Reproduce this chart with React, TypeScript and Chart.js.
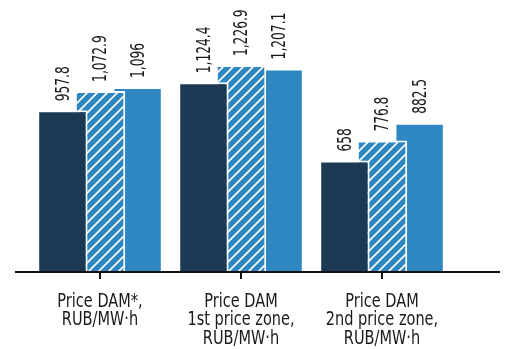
import React, { useEffect, useRef } from "react";
import { Chart, registerables } from "chart.js";

Chart.register(...registerables);

const categories: string[][] = [
  ["Price DAM*,", "RUB/MW·h"],
  ["Price DAM", "1st price zone,", "RUB/MW·h"],
  ["Price DAM", "2nd price zone,", "RUB/MW·h"],
];
const seriesA = [957.8, 1124.4, 658];
const seriesB = [1072.9, 1226.9, 776.8];
const seriesC = [1096, 1207.1, 882.5];

const DARK = "#1c3a54";
const BLUE = "#2e87c0";
const TEXT = "#1a1a1a";
const FONT = "'DejaVu Sans Condensed', 'Liberation Sans Narrow', 'Roboto', sans-serif";

function makeHatch(): CanvasPattern | string {
  const n = 10;
  const c = document.createElement("canvas");
  c.width = n;
  c.height = n;
  const g = c.getContext("2d");
  if (!g) return BLUE;
  g.fillStyle = BLUE;
  g.fillRect(0, 0, n, n);
  g.strokeStyle = "#ffffff";
  g.lineWidth = 1.6;
  g.beginPath();
  g.moveTo(-1, n + 1);
  g.lineTo(n + 1, -1);
  g.moveTo(-1, 1);
  g.lineTo(1, -1);
  g.moveTo(n - 1, n + 1);
  g.lineTo(n + 1, n - 1);
  g.stroke();
  const p = g.createPattern(c, "repeat");
  return p || BLUE;
}

const labelPlugin = {
  id: "barLabels",
  afterDatasetsDraw(chart: any) {
    const ctx = chart.ctx;
    ctx.save();
    ctx.fillStyle = TEXT;
    ctx.font = `20px ${FONT}`;
    chart.data.datasets.forEach((ds: any, di: number) => {
      const meta = chart.getDatasetMeta(di);
      meta.data.forEach((el: any, i: number) => {
        const v = ds.data[i] as number;
        const txt = v.toLocaleString("en-US");
        ctx.save();
        ctx.translate(el.x, el.y - 9);
        ctx.rotate(-Math.PI / 2);
        ctx.scale(0.68, 1);
        ctx.textAlign = "left";
        ctx.textBaseline = "middle";
        ctx.fillText(txt, 0, 1);
        ctx.restore();
      });
    });
    ctx.restore();
  },
};

const axisPlugin = {
  id: "axisText",
  afterDraw(chart: any) {
    const ctx = chart.ctx;
    const xScale = chart.scales.x;
    const y0 = chart.chartArea.bottom;
    ctx.save();
    ctx.strokeStyle = "#111111";
    ctx.lineWidth = 2;
    ctx.beginPath();
    ctx.moveTo(15, y0 + 1);
    ctx.lineTo(500, y0 + 1);
    ctx.stroke();
    ctx.fillStyle = TEXT;
    ctx.font = `19px ${FONT}`;
    ctx.textAlign = "center";
    ctx.textBaseline = "alphabetic";
    categories.forEach((lines, i) => {
      const cx = xScale.getPixelForTick(i);
      lines.forEach((line, k) => {
        ctx.save();
        ctx.translate(cx, y0 + 36 + k * 18.3);
        ctx.scale(0.85, 1);
        ctx.fillText(line, 0, 0);
        ctx.restore();
      });
    });
    ctx.restore();
  },
};

export default function App() {
  const ref = useRef<HTMLCanvasElement | null>(null);
  useEffect(() => {
    if (!ref.current) return;
    const hatch = makeHatch();
    const common = {
      categoryPercentage: 0.8,
      barPercentage: 1.34,
      borderColor: "#ffffff",
      borderWidth: 2,
    };
    const chart = new Chart(ref.current, {
      type: "bar",
      data: {
        labels: categories,
        datasets: [
          { label: "A", data: seriesA, backgroundColor: DARK, ...common },
          { label: "B", data: seriesB, backgroundColor: hatch as any, ...common },
          { label: "C", data: seriesC, backgroundColor: BLUE, ...common },
        ],
      },
      options: {
        animation: false,
        responsive: false,
        maintainAspectRatio: false,
        layout: { padding: { left: 29.5, right: 52.5, top: 36, bottom: 0 } },
        plugins: { legend: { display: false }, tooltip: { enabled: false } },
        scales: {
          y: { display: false, min: 0, max: 1400 },
          x: {
            grid: {
              offset: false,
              drawOnChartArea: false,
              drawTicks: true,
              tickLength: 8,
              color: "#111111",
              lineWidth: 2,
            },
            border: { display: false },
            ticks: { display: false, autoSkip: false, maxRotation: 0 },
            afterFit(scale: any) {
              scale.height = 78;
            },
          },
        },
      },
      plugins: [axisPlugin, labelPlugin],
    });
    return () => chart.destroy();
  }, []);
  return (
    <div style={{ position: "fixed", left: 0, top: 0, width: 505, height: 349, background: "#fff" }}>
      <canvas ref={ref} width={505} height={349} style={{ width: 505, height: 349 }} />
    </div>
  );
}
